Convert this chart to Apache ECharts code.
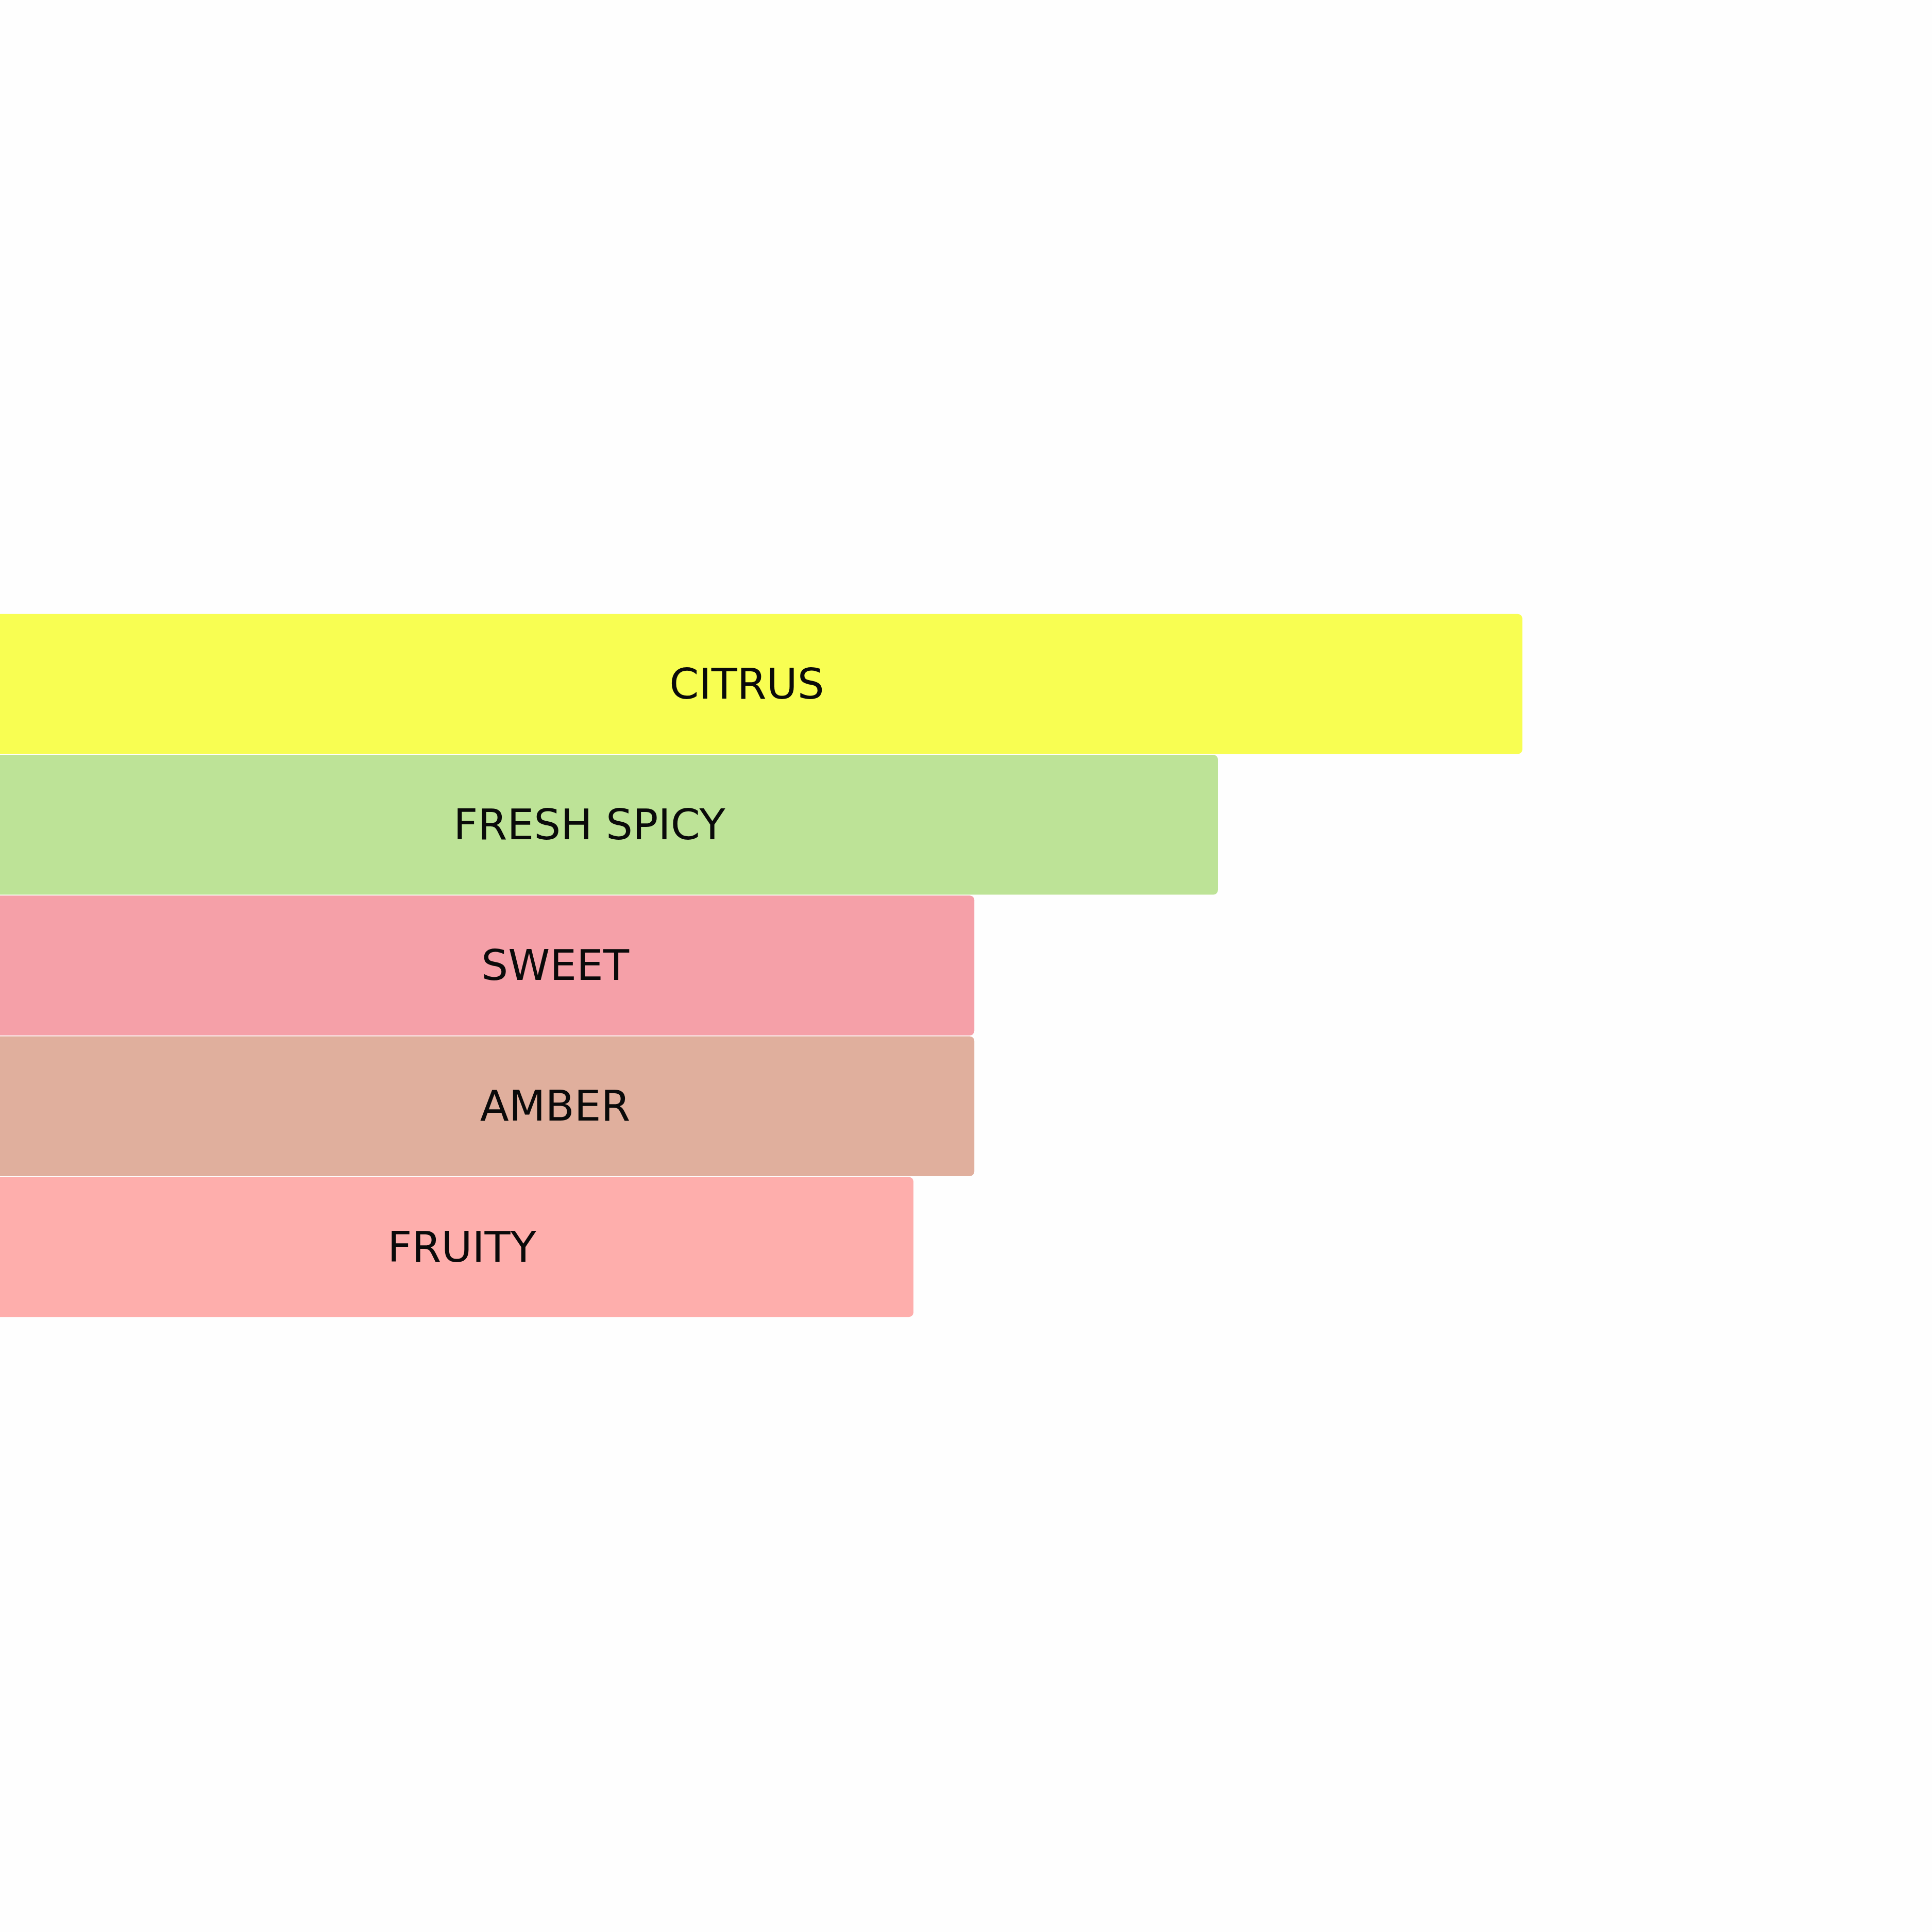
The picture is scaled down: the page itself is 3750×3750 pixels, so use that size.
<!DOCTYPE html>
<html>
<head>
<meta charset="utf-8">
<script src="https://cdn.jsdelivr.net/npm/echarts@6/dist/echarts.min.js"></script>
<style>
  html, body { margin: 0; padding: 0; background: #fefefe; }
  #chart { width: 3750px; height: 3750px; }
</style>
</head>
<body>
<div id="chart"></div>
<script>
// scent families, top to bottom
const families = ['CITRUS', 'FRESH SPICY', 'SWEET', 'AMBER', 'FRUITY'];
const scores = [100, 80, 64, 64, 60];
const familyColors = ['#f8fe52', '#bde397', '#f5a0a8', '#e0af9d', '#feaeac'];
// horizontal nudge of each label from the bar centre (px)
const labelShift = [-28, -38, 132, 132, 10];

const chart = echarts.init(document.getElementById('chart'));

const option = {
    backgroundColor: '#fefefe',
    animation: false,
    grid: { left: 0, right: 795, top: 1191, bottom: 1193 },
    xAxis: {
        type: 'value',
        min: 0,
        max: 100,
        show: false
    },
    yAxis: {
        type: 'category',
        data: families,
        inverse: true,
        show: false
    },
    series: [{
        type: 'bar',
        barCategoryGap: '0.6%',
        data: scores.map((v, i) => ({
            value: v,
            itemStyle: { color: familyColors[i] },
            label: { offset: [labelShift[i], 7] }
        })),
        itemStyle: { borderRadius: [0, 9, 9, 0] },
        label: {
            show: true,
            position: 'inside',
            formatter: p => families[p.dataIndex],
            color: '#0a0a0a',
            fontFamily: 'DejaVu Sans',
            fontSize: 82
        }
    }]
};

chart.setOption(option);
</script>
</body>
</html>
